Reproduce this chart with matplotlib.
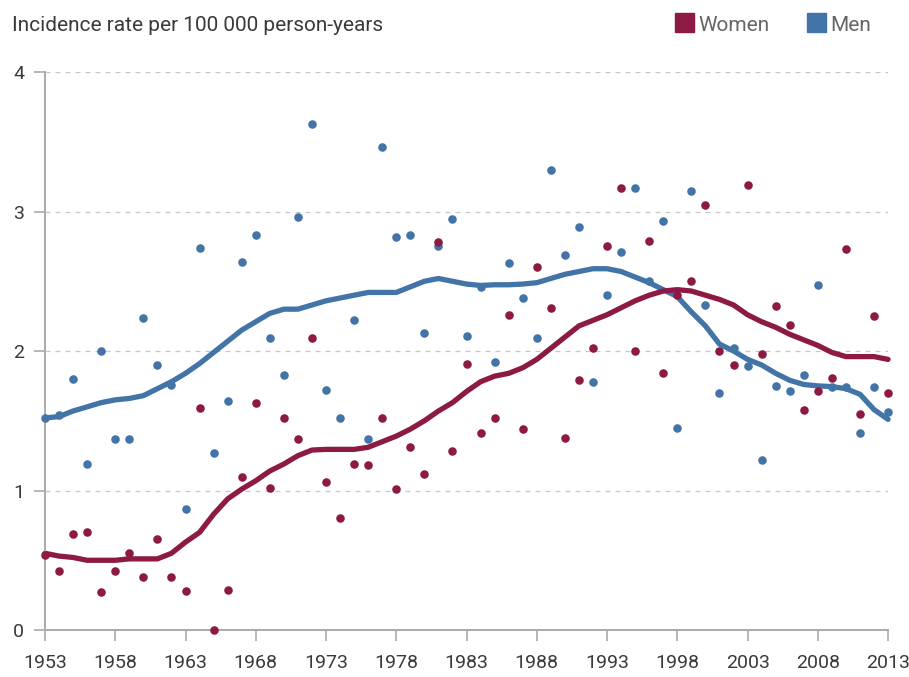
import numpy as np
import matplotlib.pyplot as plt
from matplotlib.patches import Rectangle

plt.rcParams['font.family'] = ['Roboto', 'DejaVu Sans']

years = np.arange(1953, 2014)

# yearly incidence (dots)
women = [0.54, 0.42, 0.69, 0.70, 0.27, 0.42, 0.55, 0.38, 0.65, 0.38,
         0.28, 1.59, 0.00, 0.29, 1.10, 1.63, 1.02, 1.52, 1.37, 2.09,
         1.06, 0.80, 1.19, 1.18, 1.52, 1.01, 1.31, 1.12, 2.78, 1.28,
         1.91, 1.41, 1.52, 2.26, 1.44, 2.60, 2.31, 1.38, 1.79, 2.02,
         2.75, 3.17, 2.00, 2.79, 1.84, 2.40, 2.50, 3.05, 2.00, 1.90,
         3.19, 1.98, 2.32, 2.19, 1.58, 1.71, 1.81, 2.73, 1.55, 2.25,
         1.70]
men = [1.52, 1.54, 1.80, 1.19, 2.00, 1.37, 1.37, 2.24, 1.90, 1.76,
       0.87, 2.74, 1.27, 1.64, 2.64, 2.83, 2.09, 1.83, 2.96, 3.63,
       1.72, 1.52, 2.22, 1.37, 3.46, 2.82, 2.83, 2.13, 2.75, 2.95,
       2.11, 2.46, 1.92, 2.63, 2.38, 2.09, 3.30, 2.69, 2.89, 1.78,
       2.40, 2.71, 3.17, 2.50, 2.93, 1.45, 3.15, 2.33, 1.70, 2.02,
       1.89, 1.22, 1.75, 1.71, 1.83, 2.47, 1.745, 1.745, 1.41, 1.74,
       1.56]

# smoothed trend lines
women_trend = [0.55, 0.53, 0.52, 0.50, 0.50, 0.50, 0.51, 0.51, 0.51, 0.55,
               0.63, 0.70, 0.83, 0.94, 1.01, 1.07, 1.14, 1.19, 1.25, 1.29,
               1.295, 1.295, 1.295, 1.31, 1.35, 1.39, 1.44, 1.50, 1.57, 1.63,
               1.71, 1.78, 1.82, 1.84, 1.88, 1.94, 2.02, 2.10, 2.18, 2.22,
               2.26, 2.31, 2.36, 2.40, 2.43, 2.44, 2.43, 2.40, 2.37, 2.33,
               2.26, 2.21, 2.17, 2.12, 2.08, 2.04, 1.99, 1.96, 1.96, 1.96,
               1.94]
men_trend = [1.52, 1.53, 1.57, 1.60, 1.63, 1.65, 1.66, 1.68, 1.73, 1.78,
             1.84, 1.91, 1.99, 2.07, 2.15, 2.21, 2.27, 2.30, 2.30, 2.33,
             2.36, 2.38, 2.40, 2.42, 2.42, 2.42, 2.46, 2.50, 2.52, 2.50,
             2.48, 2.47, 2.475, 2.475, 2.48, 2.49, 2.52, 2.55, 2.57, 2.59,
             2.59, 2.57, 2.53, 2.49, 2.44, 2.39, 2.28, 2.18, 2.05, 2.00,
             1.94, 1.90, 1.84, 1.79, 1.76, 1.75, 1.745, 1.73, 1.69, 1.58,
             1.51]

xticks = np.arange(1953, 2014, 5)
yticks = [0, 1, 2, 3, 4]

c_women = '#8c1a44'
c_men = '#4374a7'
grey = '#aaaaaa'
txt = '#3a3a3a'

fig = plt.figure(figsize=(9.09, 6.77), dpi=100)
ax = fig.add_axes([0.0495, 0.0694, 0.9275, 0.8242])

ax.plot(years, men_trend, color=c_men, lw=3.8, solid_capstyle='round', zorder=2, clip_on=False)
ax.plot(years, women_trend, color=c_women, lw=3.8, solid_capstyle='round', zorder=2, clip_on=False)
ax.scatter(years, men, s=38, color=c_men, zorder=3, clip_on=False, linewidths=0)
ax.scatter(years, women, s=38, color=c_women, zorder=3, clip_on=False, linewidths=0)

ax.set_xlim(1953, 2013)
ax.set_ylim(0, 4)
ax.set_xticks(xticks)
ax.set_yticks(yticks)
for y in yticks[1:]:
    ax.axhline(y, color='#c8c8c8', lw=0.9, ls=(0, (4, 4)), zorder=1)

for s in ['top', 'right']:
    ax.spines[s].set_visible(False)
for s in ['left', 'bottom']:
    ax.spines[s].set_color(grey)
    ax.spines[s].set_linewidth(1.4)

ax.tick_params(axis='both', colors=grey, length=8, width=1.2, labelsize=14, labelcolor=txt)
ax.tick_params(axis='y', pad=7)
ax.tick_params(axis='x', pad=9)

fig.text(0.0135, 0.9545, 'Incidence rate per 100 000 person-years', fontsize=15,
         color=txt, va='baseline', ha='left')

# legend
for x0, col, lab in [(0.7426, c_women, 'Women'), (0.8878, c_men, 'Men')]:
    fig.patches.append(Rectangle((x0, 0.9527), 0.0209, 0.0281, transform=fig.transFigure,
                                 color=col, figure=fig))
    fig.text(x0 + 0.0255, 0.9545, lab, fontsize=15, color='#666666', va='baseline', ha='left')

fig.savefig('out.png', dpi=100)
